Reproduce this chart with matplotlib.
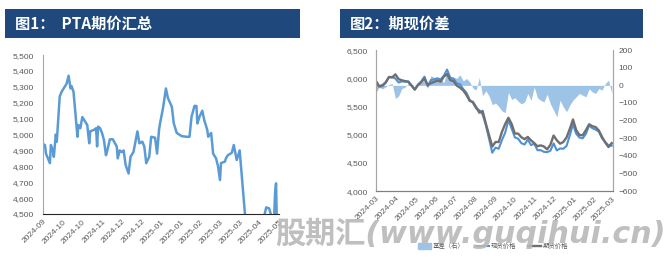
import matplotlib
matplotlib.use("Agg")
import matplotlib.pyplot as plt
import matplotlib.ticker as mticker
from matplotlib.patches import Rectangle, Patch
from matplotlib.lines import Line2D
import pandas as pd

plt.rcParams['font.family'] = ['Liberation Sans Narrow', 'Liberation Sans', 'Noto Sans CJK SC', 'DejaVu Sans']

# 图1: PTA 期价 (date, price)
pta_dates = ['2024-09-12', '2024-09-14', '2024-09-15', '2024-09-19', '2024-09-20', '2024-09-22',
             '2024-09-23', '2024-09-25', '2024-09-26', '2024-09-27', '2024-09-29', '2024-10-01',
             '2024-10-06', '2024-10-08', '2024-10-10', '2024-10-11', '2024-10-13', '2024-10-15',
             '2024-10-17', '2024-10-18', '2024-10-20', '2024-10-22', '2024-10-24', '2024-10-27',
             '2024-10-29', '2024-10-30', '2024-11-03', '2024-11-05', '2024-11-06', '2024-11-07',
             '2024-11-09', '2024-11-11', '2024-11-13', '2024-11-15', '2024-11-16', '2024-11-19',
             '2024-11-22', '2024-11-26', '2024-11-27', '2024-11-29', '2024-12-01', '2024-12-03',
             '2024-12-05', '2024-12-08', '2024-12-10', '2024-12-13', '2024-12-17', '2024-12-19',
             '2024-12-22', '2024-12-24', '2024-12-26', '2024-12-29', '2024-12-31', '2025-01-04',
             '2025-01-06', '2025-01-08', '2025-01-09', '2025-01-12', '2025-01-15', '2025-01-17',
             '2025-01-21', '2025-01-23', '2025-01-26', '2025-01-31', '2025-02-05', '2025-02-08',
             '2025-02-10', '2025-02-13', '2025-02-15', '2025-02-16', '2025-02-18', '2025-02-21',
             '2025-02-23', '2025-02-26', '2025-02-27', '2025-03-02', '2025-03-04', '2025-03-07',
             '2025-03-09', '2025-03-11', '2025-03-12', '2025-03-16', '2025-03-17', '2025-03-19',
             '2025-03-23', '2025-03-25', '2025-03-28', '2025-03-31', '2025-04-07', '2025-04-09',
             '2025-04-15', '2025-04-20', '2025-04-24', '2025-04-27', '2025-04-30', '2025-05-03',
             '2025-05-05', '2025-05-06', '2025-05-07', '2025-05-08']
pta_price = [4940, 4934, 4880, 4820, 4934, 4900,
             4860, 5000, 4955, 5050, 5240, 5270,
             5320, 5370, 5290, 5305, 5270, 5130,
             4986, 5060, 5040, 5110, 5090, 5060,
             4945, 5020, 5030, 5040, 4925, 5050,
             5040, 5010, 4965, 4870, 4890, 4970,
             4970, 4925, 4850, 4900, 4890, 4900,
             4810, 4755, 4860, 4890, 5020, 4945,
             4955, 4925, 4820, 4860, 4986, 4980,
             4880, 5030, 5070, 5165, 5290, 5230,
             5175, 5070, 5010, 4990, 4986, 4986,
             5110, 5180, 5180, 5070, 5110, 5150,
             5090, 5030, 4986, 5010, 4880, 4850,
             4800, 4714, 4820, 4830, 4850, 4870,
             4885, 4934, 4840, 4900, 4380, 4300,
             4380, 4420, 4460, 4542, 4535, 4470,
             4470, 4630, 4693, 4380]
pta_ticks = ['2024-09-12', '2024-10-02', '2024-10-22', '2024-11-11', '2024-12-01', '2024-12-21',
             '2025-01-10', '2025-01-30', '2025-02-19', '2025-03-11', '2025-03-31', '2025-04-20',
             '2025-05-10']

# 图2: 期现价差, one value every 5 days from 2024-03-01
basis_start = '2024-03-01'
futures_price = [5950, 5860, 5878, 5930, 6020, 6014, 6070, 5985, 5965, 5950,
                 5937, 5870, 5800, 5880, 5930, 6000, 5880, 5915, 5935, 5960,
                 5940, 6030, 6075, 5967, 5950, 5870, 5835, 5785, 5705, 5600,
                 5580, 5490, 5390, 5420, 5200, 4990, 4790, 4870, 4870, 5050,
                 5190, 5300, 5190, 5020, 5020, 4955, 4920, 4960, 4900, 4850,
                 4795, 4810, 4790, 4740, 4820, 4985, 4900, 4840, 4870, 4950,
                 5100, 5270, 5080, 4995, 4990, 5080, 5185, 5150, 5135, 5075,
                 4960, 4860, 4780, 4850]
spot_price = [5910, 5850, 5860, 5920, 6025, 6025, 5995, 5925, 5945, 5940,
              5945, 5875, 5800, 5890, 5945, 6030, 5860, 5970, 5980, 6000,
              5980, 6045, 6155, 6010, 5995, 5910, 5895, 5810, 5745, 5620,
              5565, 5465, 5435, 5360, 5170, 4930, 4680, 4770, 4750, 4905,
              5035, 5260, 5110, 4950, 4930, 4850, 4825, 4915, 4815, 4840,
              4725, 4725, 4695, 4690, 4715, 4845, 4720, 4755, 4750, 4800,
              4985, 5185, 5015, 4950, 4935, 5015, 5165, 5115, 5090, 5055,
              4935, 4870, 4810, 4805]
basis = [-40, -10, -20, -8, 5, 10, -75, -60, -18, -10,
         10, 5, 0, 10, 15, 30, -18, 55, 45, 40,
         40, 15, 80, 45, 45, 40, 60, 25, 39, 20,
         -15, -27, 45, -60, -30, -60, -110, -100, -120, -145,
         -155, -40, -80, -70, -90, -105, -95, -46, -84, -10,
         -70, -85, -94, -50, -105, -141, -179, -84, -122, -150,
         -113, -84, -65, -46, -56, -65, -20, -37, -46, -18,
         -27, 10, 30, -46]
month_ticks = ['2024-03-01', '2024-04-01', '2024-05-01', '2024-06-01', '2024-07-01', '2024-08-01',
               '2024-09-01', '2024-10-01', '2024-11-01', '2024-12-01', '2025-01-01', '2025-02-01',
               '2025-03-01']

navy = '#1F497D'
gray_txt = '#595959'
blue = '#5B9BD5'
light_blue = '#9DC3E6'
dark_gray = '#6F6F6F'
cjk = ['Noto Sans CJK SC', 'DejaVu Sans']

fig = plt.figure(figsize=(6.71, 2.61), dpi=100)

# title banners
for x0, w, title in [(0.0075, 0.4396, '图1：  PTA期价汇总'), (0.5067, 0.4516, '图2：期现价差')]:
    fig.patches.append(Rectangle((x0, 0.854), w, 0.111, transform=fig.transFigure,
                                 facecolor=navy, edgecolor='none'))
    fig.text(x0 + 0.0145, 0.909, title, color='white', fontsize=11, fontweight='bold',
             va='center', ha='left', family=cjk)


def style_axis(ax, ypad=6.5):
    ax.spines['top'].set_visible(False)
    ax.spines['left'].set_color('#A6A6A6')
    ax.spines['right'].set_color('#A6A6A6')
    ax.spines['bottom'].set_color('#262626')
    ax.tick_params(length=0, labelsize=6, colors=gray_txt)
    ax.tick_params(axis='y', pad=ypad)
    ax.tick_params(axis='x', pad=3)
    for lab in ax.get_xticklabels():
        lab.set_rotation(45)
        lab.set_ha('right')
        lab.set_rotation_mode('anchor')


def set_date_ticks(ax, tick_dates):
    t = pd.to_datetime(tick_dates)
    ax.set_xticks(t, [d.strftime('%Y-%m') for d in t])


# left chart
ax1 = fig.add_axes([0.0641, 0.180, 0.3517, 0.609])
ax1.plot(pd.to_datetime(pta_dates), pta_price, color=blue, lw=1.8)
ax1.set_ylim(4500, 5500)
ax1.set_yticks(range(4500, 5501, 100))
ax1.yaxis.set_major_formatter(mticker.StrMethodFormatter('{x:,.0f}'))
ax1.set_xlim(pd.Timestamp(pta_ticks[0]), pd.Timestamp(pta_ticks[-1]))
set_date_ticks(ax1, pta_ticks)
ax1.spines['right'].set_visible(False)
style_axis(ax1)

# right chart
dates2 = pd.date_range(basis_start, periods=len(futures_price), freq='5D')
ax2 = fig.add_axes([0.5604, 0.268, 0.3532, 0.540])
ax3 = ax2.twinx()
ax3.fill_between(dates2, 0, basis, color=light_blue, lw=0)
ax3.set_ylim(-600, 200)
ax3.set_yticks(range(-600, 201, 100))
ax2.set_zorder(ax3.get_zorder() + 1)
ax2.patch.set_visible(False)
ax2.plot(dates2, spot_price, color='#4F91D4', lw=1.5)
ax2.plot(dates2, futures_price, color=dark_gray, lw=1.7)
ax2.set_ylim(4000, 6500)
ax2.set_yticks(range(4000, 6501, 500))
ax2.yaxis.set_major_formatter(mticker.StrMethodFormatter('{x:,.0f}'))
ax2.set_xlim(pd.Timestamp('2024-03-01'), pd.Timestamp('2025-03-03'))
set_date_ticks(ax2, month_ticks)
style_axis(ax2, ypad=6)
style_axis(ax3, ypad=4)
for ax in (ax2, ax3):
    ax.spines['bottom'].set_color('#7F7F7F')

handles = [Patch(color=light_blue), Line2D([], [], color='#4F91D4', lw=1.5),
           Line2D([], [], color=dark_gray, lw=1.7)]
fig.legend(handles, ['基差（右）', '现货价格', '期货价格'], loc='center', ncol=3,
           bbox_to_anchor=(0.735, 0.057), frameon=False, labelcolor=gray_txt,
           handlelength=2.0, handleheight=0.9, handletextpad=0.3, columnspacing=1.8,
           prop={'family': cjk, 'size': 4.6})

# watermark
fig.text(0.701, 0.105, '股期汇(www.guqihui.cn)', fontsize=21.7, fontweight='bold', style='italic',
         color='#B8B8B8', alpha=0.9, ha='center', va='center', zorder=10,
         family=['DejaVu Sans', 'Noto Sans CJK SC'])

fig.savefig('out.png', dpi=100)
